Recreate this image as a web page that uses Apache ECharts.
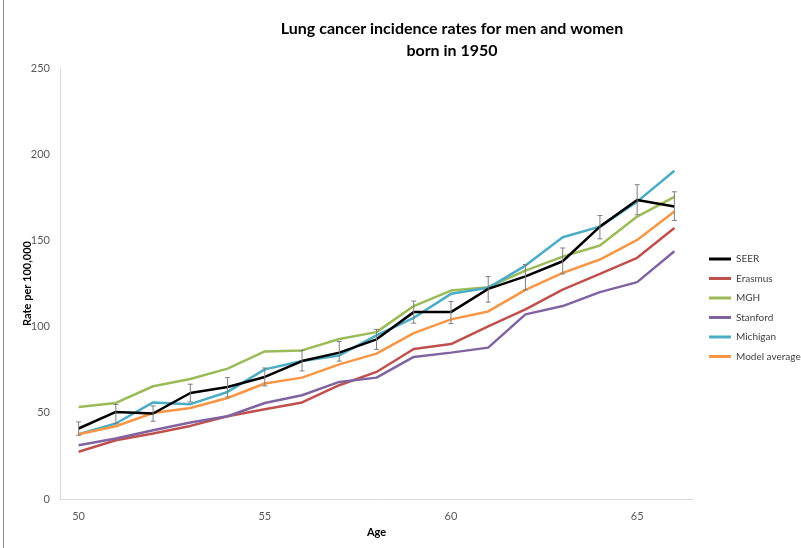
<!DOCTYPE html>
<html>
<head>
<meta charset="utf-8">
<script src="https://cdn.jsdelivr.net/npm/echarts@6/dist/echarts.min.js"></script>
<style>
  html, body { margin: 0; padding: 0; background: #fff; }
  #chart { width: 801px; height: 548px; }
</style>
</head>
<body>
<div id="chart"></div>
<script>
const ages = ['50','51','52','53','54','55','56','57','58','59','60','61','62','63','64','65','66']
const seer     = [40.9, 50.5, 49.6, 61.5, 65.0, 70.8, 80.0, 84.9, 92.6, 108.4, 108.4, 121.9, 129.1, 137.9, 158.0, 173.4, 169.7]
const seerLow  = [37.0, 43.8, 45.1, 56.3, 59.2, 65.6, 74.3, 80.0, 86.8, 102.0, 101.7, 114.2, 121.3, 130.6, 150.9, 164.9, 161.5]
const seerHigh = [44.7, 54.8, 54.0, 66.6, 70.4, 76.0, 86.2, 91.4, 98.4, 114.8, 114.6, 129.0, 136.0, 145.6, 164.4, 182.3, 178.2]
const erasmus  = [27.4, 34.1, 38.0, 42.4, 48.0, 52.1, 56.0, 66.0, 73.7, 87.0, 89.9, 100.1, 110.0, 121.5, 130.6, 139.9, 157.2]
const mgh      = [53.4, 55.7, 65.4, 69.6, 75.6, 85.6, 86.2, 92.8, 96.8, 111.9, 120.9, 122.9, 132.5, 140.6, 147.0, 163.8, 175.3]
const stanford = [31.2, 35.1, 39.9, 44.4, 48.0, 55.7, 60.2, 67.9, 70.4, 82.4, 84.9, 87.8, 107.1, 111.9, 120.0, 125.8, 143.7]
const michigan = [37.6, 43.8, 56.0, 55.0, 62.1, 75.2, 80.0, 83.3, 94.9, 105.1, 119.0, 122.5, 135.4, 151.8, 158.0, 172.5, 190.4]
const modelAvg = [37.6, 42.2, 49.9, 52.8, 58.6, 67.0, 70.4, 78.1, 84.3, 96.2, 104.2, 108.8, 121.3, 131.2, 138.9, 150.3, 166.8]

const font = 'Lato, "Open Sans", sans-serif'
const chart = echarts.init(document.getElementById('chart'))

function line(name, data, color, z) {
  return {
    name, type: 'line', data, symbol: 'none', z,
    lineStyle: { color, width: 2.5 },
    itemStyle: { color },
    emphasis: { disabled: true }
  }
}

chart.setOption({
  animation: false,
  backgroundColor: '#fff',
  textStyle: { fontFamily: font },
  title: {
    text: 'Lung cancer incidence rates for men and women\nborn in 1950',
    left: 447, top: 13, textAlign: 'center',
    textStyle: { fontSize: 16, fontWeight: 'bold', color: '#000', lineHeight: 22, fontFamily: font }
  },
  grid: { left: 60, right: 108, top: 68, bottom: 49 },
  legend: {
    orient: 'vertical', left: 704, top: 247,
    icon: 'rect', itemWidth: 22, itemHeight: 3, itemGap: 5.5,
    textStyle: { fontSize: 10, color: '#404040', lineHeight: 14, fontFamily: font },
    data: ['SEER', 'Erasmus', 'MGH', 'Stanford', 'Michigan', 'Model average']
  },
  xAxis: {
    type: 'category', data: ages, boundaryGap: true,
    name: 'Age', nameLocation: 'middle', nameGap: 25,
    nameTextStyle: { fontSize: 11, fontWeight: 'bold', color: '#000' },
    axisLine: { lineStyle: { color: '#d9d9d9', width: 1 } },
    axisTick: { show: false },
    axisLabel: { interval: 4, color: '#595959', fontSize: 11, margin: 12 },
    splitLine: { show: false }
  },
  yAxis: {
    type: 'value', min: 0, max: 250, interval: 50,
    name: 'Rate per 100,000', nameLocation: 'middle', nameRotate: 90, nameGap: 27,
    nameMoveOverlap: false,
    nameTextStyle: { fontSize: 11, fontWeight: 'bold', color: '#000' },
    axisLine: { show: true, lineStyle: { color: '#d9d9d9', width: 1 } },
    axisTick: { show: false },
    axisLabel: { color: '#595959', fontSize: 11, margin: 10 },
    splitLine: { show: false }
  },
  graphic: [{
    type: 'line', shape: { x1: 3.5, y1: 0, x2: 3.5, y2: 548 },
    style: { stroke: '#8c8c8c', lineWidth: 1 }
  }],
  series: [
    line('Erasmus', erasmus, '#C0504D', 2),
    line('MGH', mgh, '#9BBB59', 2),
    line('Stanford', stanford, '#8064A2', 2),
    line('Michigan', michigan, '#4BACC6', 2),
    line('Model average', modelAvg, '#F79646', 2),
    line('SEER', seer, '#000000', 4),
    {
      name: 'SEER', type: 'custom', z: 5,
      data: ages.map((a, i) => [i, seerLow[i], seerHigh[i]]),
      renderItem(params, api) {
        const lo = api.coord([api.value(0), api.value(1)])
        const hi = api.coord([api.value(0), api.value(2)])
        const w = 2.5
        const st = { stroke: '#7f7f7f', lineWidth: 1 }
        return {
          type: 'group',
          children: [
            { type: 'line', shape: { x1: lo[0], y1: lo[1], x2: hi[0], y2: hi[1] }, style: st },
            { type: 'line', shape: { x1: lo[0] - w, y1: lo[1], x2: lo[0] + w, y2: lo[1] }, style: st },
            { type: 'line', shape: { x1: hi[0] - w, y1: hi[1], x2: hi[0] + w, y2: hi[1] }, style: st }
          ]
        }
      }
    }
  ]
})
</script>
</body>
</html>
